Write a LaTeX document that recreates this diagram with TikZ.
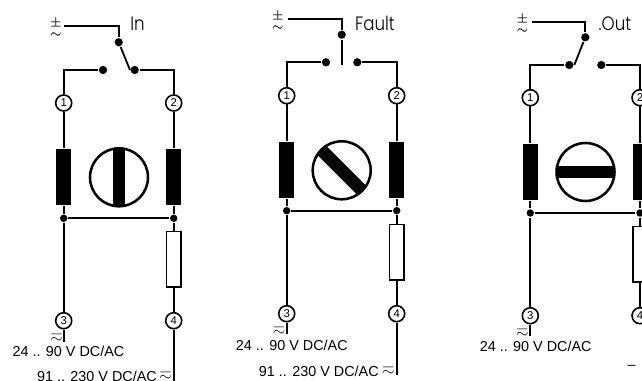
\documentclass[tikz,border=0pt]{standalone}
\usepackage{amsmath,amssymb}
\usepackage{fontspec}
\setmainfont{Liberation Sans}
\newfontfamily\titlefont{Poppins}[UprightFont=* Light]
\newcommand{\acdc}{\shortstack{$\pm$\\$\sim$}}
\begin{document}
\begin{tikzpicture}[x=0.75pt,y=-0.75pt,line width=1.35pt,
    tnode/.style={draw,circle,fill=white,line width=1.2pt,minimum size=12pt,inner sep=0pt,font=\fontsize{8.5}{8.5}\selectfont},
    dnode/.style={fill=black,draw=none,circle,minimum size=6.2pt,inner sep=0pt},
    jnode/.style={fill=black,draw=none,circle,minimum size=5.6pt,inner sep=0pt},
    cnode/.style={fill=black,draw=none,minimum width=10.9pt,minimum height=42pt,inner sep=0pt},
    rnode/.style={draw,fill=white,line width=1.1pt,minimum width=10.6pt,minimum height=41.5pt,inner sep=0pt},
    mnode/.style={draw,circle,line width=1.9pt,minimum size=43.5pt,inner sep=0pt},
    bnode/.style={fill=black,draw=none,minimum width=9.5pt,minimum height=42pt,inner sep=0pt},
    tlabel/.style={font=\titlefont\fontsize{14.5}{16}\selectfont,xscale=0.86,inner sep=0pt},
    vlabel/.style={font=\fontsize{10.8}{12}\selectfont,inner sep=0pt},
    slabel/.style={font=\fontsize{9.5}{7.5}\selectfont\boldmath,inner sep=0pt},
    elabel/.style={font=\fontsize{12}{12}\selectfont,inner sep=0pt}]
    \useasboundingbox (0,0) rectangle (642,381);

    % In
    \node[slabel] (ia) at (56,28) {\acdc};
    \coordinate (ib) at (64,26);
    \coordinate (ic) at (130,70);
    \coordinate (ie) at (63.7,342);
    \coordinate (if) at (173.7,381);
    \node[tlabel] (il) at (137.5,24) {In};
    \node[dnode] (i0) at (118.7,42.3) {};
    \node[dnode] (il0) at (103,70) {};
    \node[dnode] (ir0) at (134.7,70) {};
    \node[tnode] (i1) at (63.7,103) {1};
    \node[tnode] (i2) at (173.7,103) {2};
    \node[tnode] (i3) at (63.7,320.7) {3};
    \node[tnode] (i4) at (173.7,320.7) {4};
    \node[cnode] (ic1) at (63.7,177) {};
    \node[cnode] (ic2) at (173.7,177) {};
    \node[jnode] (ij1) at (63.7,218.3) {};
    \node[jnode] (ij2) at (173.7,218.3) {};
    \node[rnode] (ir) at (173.7,259.3) {};
    \node[mnode] (im) at (119,177.3) {};
    \node[bnode] at (im.center) {};
    \node[vlabel] (iv1) at (68.5,351.5) {24 .. 90 V DC/AC};
    \node[vlabel] (iv2) at (97,376) {91 .. 230 V DC/AC};
    \node[elabel] (is1) at (56.7,337.7) {$\eqsim$};
    \node[elabel] (is2) at (165.7,376) {$\eqsim$};
    \draw (ib) -| (i0);
    \draw (i0) -- (ic);
    \draw (il0) -| (i1);
    \draw (ir0) -| (i2);
    \draw (i1) -- (ic1);
    \draw (i2) -- (ic2);
    \draw (ic1) -- (ij1);
    \draw (ic2) -- (ij2);
    \draw (ij1) -- (ij2);
    \draw (ij1) -- (i3);
    \draw (ij2) -- (ir);
    \draw (ir) -- (i4);
    \draw (i3) -- (ie);
    \draw (i4) -- (if);

    % Fault
    \node[slabel] (fa) at (278,21) {\acdc};
    \coordinate (fb) at (287.7,19);
    \coordinate (fc) at (341.7,65);
    \coordinate (fe) at (286.7,334);
    \coordinate (ff) at (396.7,375);
    \node[tlabel] (fl) at (375,23) {Fault};
    \node[dnode] (f0) at (341.7,34.7) {};
    \node[dnode] (fl0) at (326,62.3) {};
    \node[dnode] (fr0) at (357.3,62.3) {};
    \node[tnode] (f1) at (286.7,95.7) {1};
    \node[tnode] (f2) at (396.7,95.7) {2};
    \node[tnode] (f3) at (286.7,313.7) {3};
    \node[tnode] (f4) at (396.7,313.7) {4};
    \node[cnode] (fc1) at (286.7,170.3) {};
    \node[cnode] (fc2) at (396.7,170.3) {};
    \node[jnode] (fj1) at (286.7,210.7) {};
    \node[jnode] (fj2) at (396.7,210.7) {};
    \node[rnode] (fr) at (396.7,252.3) {};
    \node[mnode] (fm) at (341.7,170.3) {};
    \node[bnode,rotate=45] at (fm.center) {};
    \node[vlabel] (fv1) at (291.8,345) {24 .. 90 V DC/AC};
    \node[vlabel] (fv2) at (318.8,371) {91 .. 230 V DC/AC};
    \node[elabel] (fs1) at (279,330.7) {$\eqsim$};
    \node[elabel] (fs2) at (388.3,371) {$\eqsim$};
    \draw (fb) -| (f0);
    \draw (f0) -- (fc);
    \draw (fl0) -| (f1);
    \draw (fr0) -| (f2);
    \draw (f1) -- (fc1);
    \draw (f2) -- (fc2);
    \draw (fc1) -- (fj1);
    \draw (fc2) -- (fj2);
    \draw (fj1) -- (fj2);
    \draw (fj1) -- (f3);
    \draw (fj2) -- (fr);
    \draw (fr) -- (f4);
    \draw (f3) -- (fe);
    \draw (f4) -- (ff);

    % Out
    \node[slabel] (oa) at (522.3,24) {\acdc};
    \coordinate (ob) at (531.7,21.7);
    \coordinate (oc) at (574.3,65);
    \coordinate (oe) at (530.3,336);
    \node[tlabel] (ol) at (615,24) {.Out};
    \node[dnode] (o0) at (585.3,37.3) {};
    \node[dnode] (ol0) at (569.3,65) {};
    \node[dnode] (or0) at (601.3,65) {};
    \node[tnode] (o1) at (530.3,97.7) {1};
    \node[tnode] (o2) at (640,97.7) {2};
    \node[tnode] (o3) at (530.3,315.7) {3};
    \node[tnode] (o4) at (640,315.7) {4};
    \node[cnode] (oc1) at (530.3,172) {};
    \node[cnode] (oc2) at (640,172) {};
    \node[jnode] (oj1) at (530.3,213) {};
    \node[jnode] (oj2) at (640,213) {};
    \node[rnode] (or) at (640,254.3) {};
    \node[mnode] (om) at (585.5,172) {};
    \node[bnode,rotate=90] at (om.center) {};
    \node[vlabel] (ov1) at (535.7,346.7) {24 .. 90 V DC/AC};
    \node[elabel] (os1) at (522.3,332.3) {$\eqsim$};
    \node[vlabel] (os2) at (631.7,367) {--};
    \draw (ob) -| (o0);
    \draw (o0) -- (oc);
    \draw (ol0) -| (o1);
    \draw (or0) -| (o2);
    \draw (o1) -- (oc1);
    \draw (o2) -- (oc2);
    \draw (oc1) -- (oj1);
    \draw (oc2) -- (oj2);
    \draw (oj1) -- (oj2);
    \draw (oj1) -- (o3);
    \draw (oj2) -- (or);
    \draw (or) -- (o4);
    \draw (o3) -- (oe);
\end{tikzpicture}
\end{document}
